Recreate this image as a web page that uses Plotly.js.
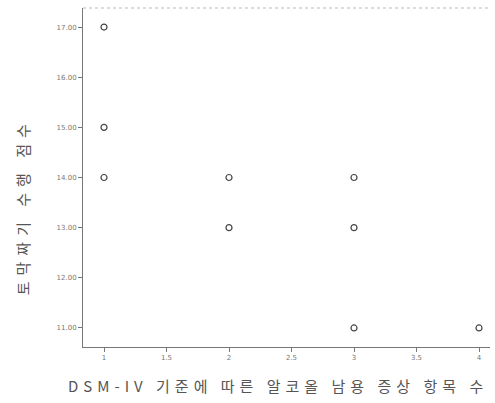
<!DOCTYPE html>
<html><head><meta charset="utf-8">
<script src="https://cdn.plot.ly/plotly-3.0.1.min.js"></script>
<style>html,body{margin:0;padding:0;background:#fff}#c{width:495px;height:403px}
.annotation[data-index="0"] .annotation-text{letter-spacing:5px}
.annotation[data-index="1"] .annotation-text{letter-spacing:6px}
</style>
</head><body><div id="c"></div>
<script>
const symptomCount = [1, 1, 1, 2, 2, 3, 3, 3, 4];
const blockScore = [17, 15, 14, 14, 13, 14, 13, 11, 11];
const xTicks = [1, 1.5, 2, 2.5, 3, 3.5, 4];
const yTicks = [11, 12, 13, 14, 15, 16, 17];
const xTitle = 'DSM-IV 기준에 따른 알코올 남용 증상 항목 수';
const yTitle = '토막짜기 수행 점수';

const trace = {
  x: symptomCount, y: blockScore, type: 'scatter', mode: 'markers',
  marker: {symbol: 'circle-open', size: 6, color: '#444', line: {width: 1.2, color: '#444'}},
  hoverinfo: 'none'
};
const font = "'Noto Sans CJK KR', 'DejaVu Sans', sans-serif";
const layout = {
  width: 495, height: 403,
  margin: {l: 83, r: 5, t: 8, b: 56},
  paper_bgcolor: '#fff', plot_bgcolor: '#fff',
  showlegend: false,
  font: {family: font, color: '#555'},
  xaxis: {
    range: [0.832, 4.088], tickvals: xTicks, ticktext: xTicks.map(String),
    showgrid: false, zeroline: false, showline: true, linecolor: '#777', linewidth: 1,
    ticks: 'outside', ticklen: 4, tickcolor: '#777', tickfont: {size: 7, color: '#777', family: 'DejaVu Sans'}
  },
  yaxis: {
    range: [10.62, 17.38], tickvals: yTicks, tickformat: '.2f',
    showgrid: false, zeroline: false, showline: true, linecolor: '#777', linewidth: 1,
    ticks: 'outside', ticklen: 4, tickcolor: '#777', tickfont: {size: 7, color: '#777', family: 'DejaVu Sans'}
  },
  annotations: [
    {text: xTitle, xref: 'paper', yref: 'paper', x: 0.48, y: -0.115, xanchor: 'center', yanchor: 'middle',
     showarrow: false, font: {size: 15, color: '#555', family: font}},
    {text: yTitle, xref: 'paper', yref: 'paper', x: -0.15, y: 0.415, xanchor: 'center', yanchor: 'middle',
     textangle: -90, showarrow: false, font: {size: 15, color: '#555', family: font}}
  ],
  shapes: [{type: 'line', xref: 'paper', yref: 'paper', x0: 0, x1: 1, y0: 1, y1: 1,
            line: {color: '#bbb', width: 1, dash: 'dot'}}]
};
Plotly.newPlot('c', [trace], layout, {staticPlot: true});
</script></body></html>
